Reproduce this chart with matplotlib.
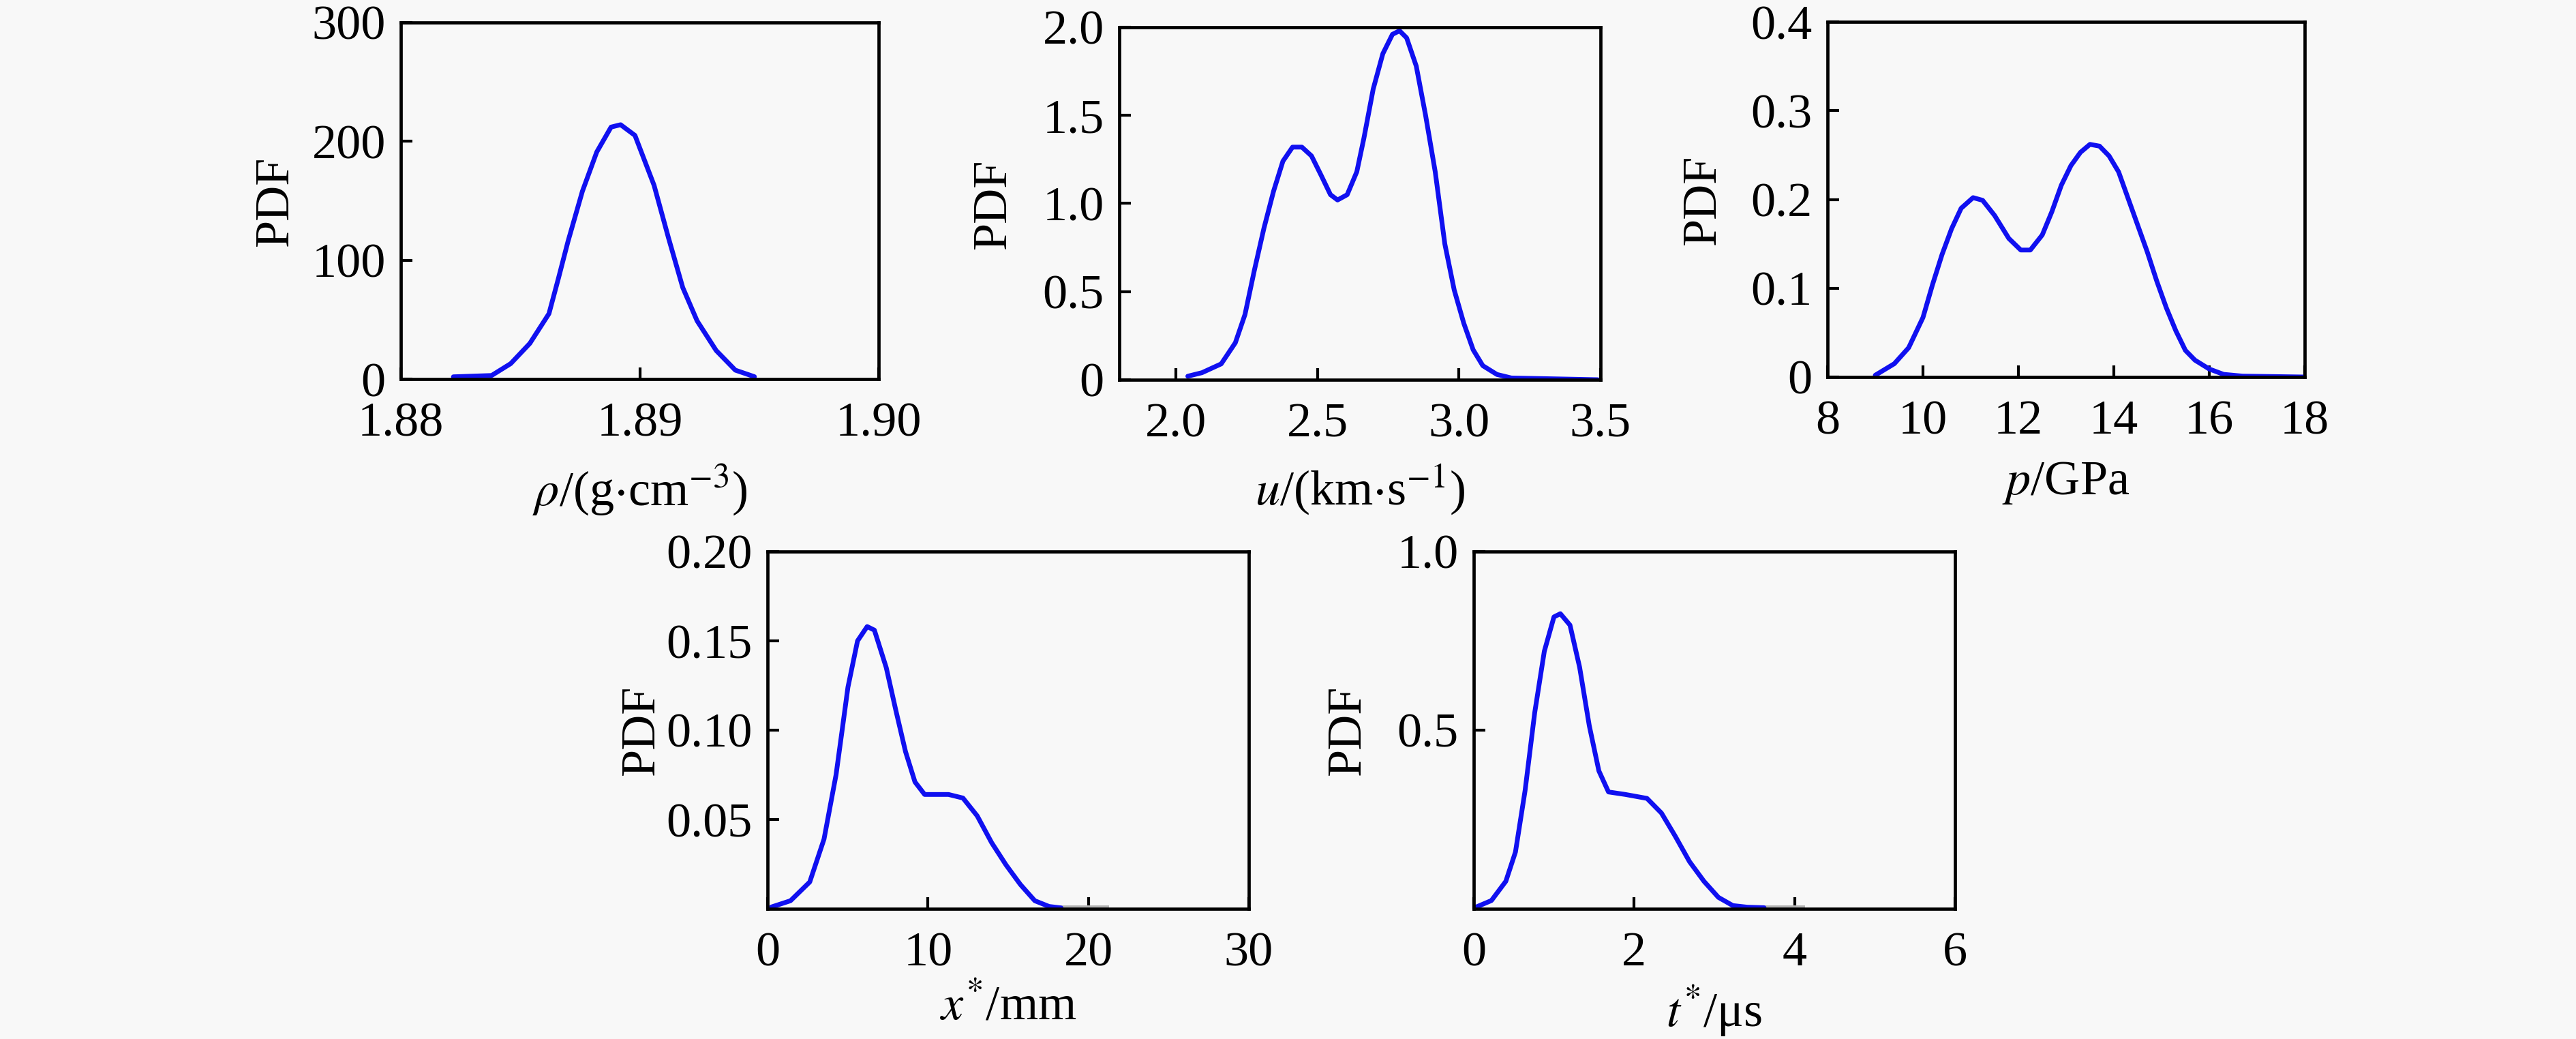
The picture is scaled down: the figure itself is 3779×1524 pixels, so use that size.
import matplotlib.pyplot as plt

plt.rcParams['font.family'] = ['Liberation Serif', 'DejaVu Serif']
plt.rcParams['mathtext.fontset'] = 'stix'

# density rho / (g cm^-3)
rho_x = [1.8822, 1.8838, 1.8846, 1.8854, 1.8862, 1.8866, 1.8870, 1.8876, 1.8882, 1.8888, 1.8892,
         1.8898, 1.8906, 1.8912, 1.8918, 1.8924, 1.8932, 1.8940, 1.8948]
rho_pdf = [1.9, 3, 13, 30, 55, 85, 116, 158, 191, 212, 214,
           205, 163, 119, 77, 49, 24, 7.5, 2]

# particle velocity u / (km s^-1)
u_x = [2.042, 2.092, 2.16, 2.21, 2.244, 2.277, 2.311, 2.345, 2.378, 2.412, 2.445, 2.479,
       2.513, 2.546, 2.571, 2.605, 2.639, 2.664, 2.697, 2.731, 2.765, 2.79, 2.815, 2.849,
       2.882, 2.916, 2.95, 2.983, 3.017, 3.05, 3.084, 3.134, 3.185, 3.49]
u_pdf = [0.02, 0.04, 0.09, 0.21, 0.37, 0.62, 0.86, 1.07, 1.24, 1.32, 1.32, 1.27,
         1.16, 1.05, 1.02, 1.05, 1.18, 1.37, 1.65, 1.85, 1.96, 1.98, 1.94, 1.78,
         1.50, 1.18, 0.77, 0.51, 0.32, 0.17, 0.08, 0.03, 0.01, 0.0]

# pressure p / GPa
p_x = [9.0, 9.4, 9.7, 10.0, 10.2, 10.4, 10.6, 10.8, 11.05, 11.25, 11.5, 11.8, 12.05, 12.25,
       12.5, 12.7, 12.9, 13.1, 13.3, 13.5, 13.7, 13.9, 14.1, 14.3, 14.5, 14.7, 14.9, 15.1,
       15.3, 15.5, 15.7, 16.0, 16.3, 16.7, 18.0]
p_pdf = [0.002, 0.015, 0.033, 0.067, 0.104, 0.138, 0.167, 0.19, 0.202, 0.199, 0.182, 0.156,
         0.143, 0.143, 0.16, 0.186, 0.216, 0.238, 0.253, 0.262, 0.26, 0.249, 0.231, 0.201,
         0.171, 0.141, 0.108, 0.078, 0.052, 0.03, 0.019, 0.009, 0.003, 0.001, 0.0]

# x* / mm
xs_x = [0.24, 1.43, 2.63, 3.52, 4.27, 4.65, 5.01, 5.61, 6.21, 6.66, 7.4, 8.0, 8.6, 9.19, 9.79,
        11.28, 12.18, 13.07, 13.97, 14.87, 15.76, 16.66, 17.55, 18.3]
xs_pdf = [0.001, 0.0045, 0.015, 0.039, 0.075, 0.100, 0.124, 0.15, 0.158, 0.156, 0.135, 0.111,
          0.088, 0.071, 0.064, 0.064, 0.062, 0.052, 0.037, 0.0245, 0.0136, 0.0045, 0.0013,
          0.0005]
xs_tail_x = [18.3, 21.1]
xs_tail_pdf = [0.0008, 0.0008]

# t* / us
ts_x = [0.01, 0.22, 0.4, 0.52, 0.64, 0.70, 0.76, 0.88, 1.0, 1.08, 1.2, 1.32, 1.44, 1.56, 1.68,
        1.89, 2.16, 2.34, 2.51, 2.69, 2.87, 3.05, 3.23, 3.41, 3.62]
ts_pdf = [0.003, 0.023, 0.077, 0.159, 0.331, 0.440, 0.549, 0.721, 0.817, 0.826, 0.794, 0.676,
          0.513, 0.386, 0.327, 0.320, 0.309, 0.268, 0.204, 0.132, 0.077, 0.032, 0.009,
          0.0045, 0.003]
ts_tail_x = [3.62, 4.1]
ts_tail_pdf = [0.004, 0.004]

W, H = 3780, 1524
fig = plt.figure(figsize=(W / 100, H / 100), dpi=100, facecolor='#f8f8f8')


def make_ax(x0, y0, x1, y1, xlab_y=-0.235):
    ax = fig.add_axes([x0 / W, 1 - y1 / H, (x1 - x0) / W, (y1 - y0) / H])
    ax.set_facecolor('#f8f8f8')
    for s in ax.spines.values():
        s.set_linewidth(3.4)
        s.set_color('black')
    ax.tick_params(direction='in', length=12, width=3, labelsize=52,
                   top=False, right=False)
    ax.tick_params(axis='x', pad=24)
    ax.tick_params(axis='y', pad=16)
    ax.set_ylabel('PDF', fontsize=52)
    ax.yaxis.set_label_coords(-0.215, 0.5)
    ax.xaxis.set_label_coords(0.5, xlab_y)
    return ax


line_kw = dict(color='#1010f0', lw=5, solid_joinstyle='round', solid_capstyle='round')
tail_kw = dict(color='#b4b4b4', lw=5)

ax1 = make_ax(588, 33, 1289, 556)
ax1.plot(rho_x, rho_pdf, **line_kw)
ax1.set_xlim(1.88, 1.90)
ax1.set_ylim(0, 300)
ax1.set_xticks([1.88, 1.89, 1.90], ['1.88', '1.89', '1.90'])
ax1.set_yticks([0, 100, 200, 300])
ax1.set_xlabel(r'$\rho$/(g$\cdot$cm$^{-3}$)', fontsize=52)

ax2 = make_ax(1642, 40, 2348, 557)
ax2.plot(u_x, u_pdf, **line_kw)
ax2.set_xlim(1.8, 3.5)
ax2.set_ylim(0, 2.0)
ax2.set_xticks([2.0, 2.5, 3.0, 3.5], ['2.0', '2.5', '3.0', '3.5'])
ax2.set_yticks([0, 0.5, 1.0, 1.5, 2.0], ['0', '0.5', '1.0', '1.5', '2.0'])
ax2.set_xlabel(r'$u$/(km$\cdot$s$^{-1}$)', fontsize=52)

ax3 = make_ax(2681, 32, 3381, 553)
ax3.plot(p_x, p_pdf, **line_kw)
ax3.set_xlim(8, 18)
ax3.set_ylim(0, 0.4)
ax3.set_xticks([8, 10, 12, 14, 16, 18])
ax3.set_yticks([0, 0.1, 0.2, 0.3, 0.4], ['0', '0.1', '0.2', '0.3', '0.4'])
ax3.set_xlabel(r'$p$/GPa', fontsize=52)

ax4 = make_ax(1126, 809, 1832, 1333, xlab_y=-0.21)
ax4.plot(xs_tail_x, xs_tail_pdf, **tail_kw)
ax4.plot(xs_x, xs_pdf, **line_kw)
ax4.set_xlim(0, 30)
ax4.set_ylim(0, 0.20)
ax4.set_xticks([0, 10, 20, 30])
ax4.set_yticks([0.05, 0.10, 0.15, 0.20], ['0.05', '0.10', '0.15', '0.20'])
ax4.set_xlabel(r'$x^{*}$/mm', fontsize=52)

ax5 = make_ax(2162, 809, 2868, 1333, xlab_y=-0.21)
ax5.plot(ts_tail_x, ts_tail_pdf, **tail_kw)
ax5.plot(ts_x, ts_pdf, **line_kw)
ax5.set_xlim(0, 6)
ax5.set_ylim(0, 1.0)
ax5.set_xticks([0, 2, 4, 6])
ax5.set_yticks([0.5, 1.0], ['0.5', '1.0'])
ax5.set_xlabel(r'$t^{*}$/μs', fontsize=52)

fig.savefig('out.png', dpi=100, facecolor=fig.get_facecolor())
